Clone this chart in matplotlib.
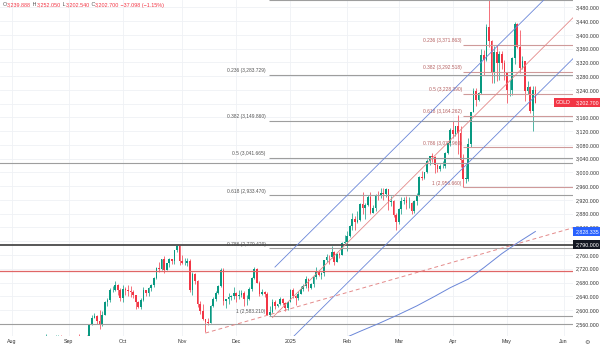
import matplotlib.pyplot as plt
import numpy as np
import pandas as pd

# daily XAUUSD bars, weekdays with the market holidays taken out
bar_dates = pd.bdate_range("2024-08-01", "2025-05-16")
bar_dates = bar_dates[~bar_dates.isin(pd.to_datetime(["2024-12-25", "2025-01-01", "2025-04-18"]))]

opens = [
    # Aug
    2448, 2446, 2442, 2409, 2390, 2382, 2427, 2431, 2472, 2465, 2447, 2456, 2507, 2503, 2514, 2512, 2484, 2512, 2518, 2524, 2504, 2521,
    # Sep
    2503, 2500, 2493, 2495, 2516, 2497, 2506, 2516, 2512, 2558, 2578, 2582, 2569, 2559, 2587, 2622, 2628, 2657, 2657, 2672, 2658,
    # Oct
    2634, 2662, 2659, 2656, 2653, 2643, 2622, 2608, 2630, 2657, 2649, 2663, 2674, 2692, 2721, 2720, 2748, 2716, 2736, 2747, 2743, 2774, 2787,
    # Nov
    2743, 2736, 2736, 2742, 2659, 2706, 2685, 2618, 2598, 2573, 2565, 2563, 2611, 2631, 2650, 2670, 2715, 2626, 2633, 2638, 2640,
    # Dec
    2650, 2640, 2643, 2650, 2632, 2633, 2660, 2694, 2718, 2680, 2648, 2652, 2646, 2587, 2594, 2622, 2612, 2617, 2633, 2621, 2606,
    # Jan
    2624, 2658, 2640, 2636, 2648, 2661, 2670, 2690, 2663, 2677, 2696, 2714, 2702, 2708, 2745, 2755, 2753, 2770, 2740, 2763, 2760, 2794,
    # Feb
    2798, 2815, 2843, 2866, 2856, 2861, 2908, 2898, 2904, 2928, 2883, 2898, 2935, 2933, 2939, 2936, 2951, 2915, 2916, 2875,
    # Mar
    2857, 2893, 2918, 2920, 2910, 2910, 2889, 2916, 2934, 2988, 2984, 3001, 3034, 3048, 3044, 3023, 3011, 3019, 3019, 3057, 3085,
    # Apr
    3124, 3113, 3134, 3114, 3037, 2982, 2982, 3083, 3176, 3237, 3211, 3230, 3343, 3327, 3424, 3381, 3288, 3349, 3319, 3344, 3317,
    # May
    3289, 3239, 3241, 3334, 3431, 3365, 3305, 3325, 3236, 3249, 3178, 3239.888,
]
highs = [
    2477, 2477, 2460, 2419, 2401, 2431, 2440, 2474, 2477, 2478, 2461, 2509, 2510, 2531, 2518, 2513, 2512, 2527, 2526, 2528, 2524, 2525,
    2504, 2503, 2500, 2524, 2529, 2509, 2518, 2528, 2560, 2586, 2590, 2585, 2600, 2596, 2626, 2635, 2664, 2671, 2685, 2675, 2665,
    2673, 2666, 2672, 2670, 2658, 2645, 2625, 2634, 2668, 2659, 2668, 2676, 2695, 2725, 2740, 2748, 2758, 2737, 2750, 2749, 2774, 2790, 2790,
    2761, 2750, 2750, 2749, 2710, 2709, 2686, 2627, 2618, 2575, 2578, 2615, 2639, 2656, 2674, 2721, 2721, 2633, 2649, 2645, 2666,
    2652, 2657, 2657, 2656, 2645, 2667, 2697, 2726, 2722, 2685, 2661, 2655, 2653, 2611, 2632, 2628, 2619, 2638, 2635, 2623, 2626,
    2662, 2665, 2643, 2654, 2670, 2676, 2698, 2693, 2680, 2698, 2724, 2716, 2710, 2746, 2763, 2759, 2786, 2772, 2765, 2770, 2799, 2817,
    2831, 2846, 2882, 2873, 2887, 2911, 2942, 2910, 2935, 2943, 2905, 2938, 2947, 2955, 2954, 2956, 2952, 2931, 2921, 2883,
    2896, 2928, 2930, 2931, 2930, 2915, 2921, 2940, 2990, 3005, 3001, 3038, 3049, 3057, 3047, 3025, 3024, 3032, 3060, 3087, 3128,
    3149, 3135, 3168, 3136, 3055, 3022, 3100, 3176, 3245, 3245, 3233, 3358, 3357, 3431, 3500.12, 3386, 3367, 3371, 3352, 3353, 3328,
    3290, 3269, 3337, 3437, 3435, 3415, 3340, 3325, 3265, 3252, 3252, 3252.05,
]
lows = [
    2436, 2410, 2364, 2385, 2375, 2380, 2415, 2424, 2455, 2440, 2431, 2454, 2488, 2500, 2495, 2470, 2477, 2506, 2507, 2502, 2500, 2491,
    2489, 2472, 2484, 2491, 2485, 2490, 2499, 2500, 2510, 2556, 2576, 2560, 2546, 2554, 2585, 2613, 2623, 2651, 2655, 2643, 2625,
    2624, 2643, 2642, 2638, 2636, 2603, 2605, 2603, 2626, 2640, 2641, 2654, 2668, 2690, 2710, 2717, 2708, 2715, 2724, 2733, 2735, 2768, 2730,
    2733, 2732, 2727, 2652, 2643, 2677, 2610, 2589, 2571, 2536, 2557, 2562, 2609, 2626, 2646, 2667, 2614, 2605, 2618, 2629, 2631,
    2622, 2633, 2639, 2613, 2614, 2629, 2656, 2691, 2678, 2642, 2644, 2638, 2585, 2583.21, 2591, 2603, 2610, 2614, 2616, 2597, 2600,
    2623, 2636, 2614, 2629, 2646, 2656, 2664, 2656, 2661, 2667, 2690, 2700, 2690, 2698, 2741, 2735, 2751, 2730, 2739, 2751, 2759, 2790,
    2772, 2812, 2834, 2834, 2853, 2859, 2880, 2864, 2903, 2880, 2882, 2888, 2920, 2925, 2921, 2930, 2890, 2903, 2870, 2832,
    2850, 2880, 2909, 2894, 2898, 2880, 2881, 2905, 2932, 2979, 2982, 2999, 3022, 3030, 2999, 3002, 3005, 3012, 3013, 3055, 3076,
    3101, 3105, 3054, 3015, 2956.66, 2970, 2975, 3073, 3175, 3193, 3209, 3229, 3283, 3325, 3366, 3260, 3260, 3266, 3268, 3300, 3268,
    3202, 3223, 3225, 3316, 3362, 3290, 3300, 3208, 3227, 3172, 3121, 3202.54,
]
closes = [
    2446, 2442, 2409, 2390, 2382, 2427, 2431, 2472, 2465, 2447, 2456, 2507, 2503, 2514, 2512, 2484, 2512, 2518, 2524, 2504, 2521, 2503,
    2500, 2493, 2495, 2516, 2497, 2506, 2516, 2512, 2558, 2578, 2582, 2569, 2559, 2587, 2622, 2628, 2657, 2657, 2672, 2658, 2634,
    2662, 2659, 2656, 2653, 2643, 2622, 2608, 2630, 2657, 2649, 2663, 2674, 2692, 2721, 2720, 2748, 2716, 2736, 2747, 2743, 2774, 2787, 2743,
    2736, 2736, 2742, 2659, 2706, 2685, 2618, 2598, 2573, 2565, 2563, 2611, 2631, 2650, 2670, 2715, 2626, 2633, 2638, 2640, 2650,
    2640, 2643, 2650, 2632, 2633, 2660, 2694, 2718, 2680, 2648, 2652, 2646, 2587, 2594, 2622, 2612, 2617, 2633, 2621, 2606, 2624,
    2658, 2640, 2636, 2648, 2661, 2670, 2690, 2663, 2677, 2696, 2714, 2702, 2708, 2745, 2755, 2753, 2770, 2740, 2763, 2760, 2794, 2798,
    2815, 2843, 2866, 2856, 2861, 2908, 2898, 2904, 2928, 2883, 2898, 2935, 2933, 2939, 2936, 2951, 2915, 2916, 2875, 2857,
    2893, 2918, 2920, 2910, 2910, 2889, 2916, 2934, 2988, 2984, 3001, 3034, 3048, 3044, 3023, 3011, 3019, 3019, 3057, 3085, 3124,
    3113, 3134, 3114, 3037, 2982, 2982, 3083, 3176, 3237, 3211, 3230, 3343, 3327, 3424, 3381, 3288, 3349, 3319, 3344, 3317, 3289,
    3239, 3241, 3334, 3431, 3365, 3305, 3325, 3236, 3249, 3178, 3239.798, 3202.70,
]

# fibonacci retracement, Apr low -> Apr high
small_fib_levels = ["0.236", "0.382", "0.5", "0.618", "0.786", "1"]
small_fib_prices = [3371.863, 3292.518, 3228.390, 3164.262, 3072.960, 2956.660]
small_fib_start = 175

# fibonacci retracement, Dec low -> Apr high
big_fib_levels = ["0.236", "0.382", "0.5", "0.618", "0.786", "1"]
big_fib_prices = [3283.729, 3149.860, 3041.665, 2933.470, 2779.429, 2583.210]
big_fib_start = 99.5
fib_top = 3500.12

# horizontal levels across the whole chart
level_black = 2790.0
level_red = 2713.0
levels_grey = [3027.0, 2560.0]

# trend channel (bar index, price)
upper_x, upper_y = [102, 218], [2725, 3589]
mid_x, mid_y = [101, 218], [2578, 3453]
lower_x, lower_y = [101, 218], [2462, 3334]
trend_x, trend_y = [75, 218], [2533, 2840]

# 200 day moving average
ma_x = [128, 135, 142, 150, 157, 164, 170, 177, 183, 190, 196, 203]
ma_y = [2515, 2538, 2560, 2587, 2612, 2640, 2665, 2690, 2723, 2764, 2795, 2828.335]

GREEN = "#089981"
RED = "#f23645"
FONT = "Liberation Sans"

opens = np.array(opens)
highs = np.array(highs)
lows = np.array(lows)
closes = np.array(closes)
idx = np.arange(len(closes))

fig = plt.figure(figsize=(6, 3.49), dpi=100)
ax = fig.add_axes([0, 13 / 349, 573 / 600, 336 / 349])
ax.set_xlim(-4.65, 217.6)
ax.set_ylim(2524.5, 3501.5)
for s in ax.spines.values():
    s.set_visible(False)

# month ticks, running on into June
future = pd.bdate_range("2025-05-19", "2025-06-30")
all_dates = bar_dates.append(future)
month_pos, month_lab = [], []
for i, d in enumerate(all_dates):
    if i == 0 or d.month != all_dates[i - 1].month:
        month_pos.append(i)
        month_lab.append("2025" if d.month == 1 else d.strftime("%b"))
ax.set_xticks(month_pos)
ax.set_xticklabels(month_lab)
yt = np.arange(2560, 3481, 40)
ax.set_yticks(yt)
# the 2,800 label sits under the 2,790 marker box
ax.set_yticklabels(["" if v == 2800 else f"{v:,.3f}" for v in yt])
ax.yaxis.tick_right()
ax.tick_params(axis="both", length=0, labelsize=3.8, labelcolor="#333333")
ax.tick_params(axis="y", pad=2.0)
ax.tick_params(axis="x", pad=2.5)
for lab in ax.get_xticklabels() + ax.get_yticklabels():
    lab.set_fontfamily(FONT)
ax.grid(color="#eff1f5", lw=0.6, zorder=0)
ax.set_axisbelow(True)

# candles
colors = np.where(closes >= opens, GREEN, RED)
ax.vlines(idx, lows, highs, colors=colors, lw=0.5, zorder=3)
body = np.maximum(np.abs(closes - opens), 1.0)
ax.bar(idx, body, bottom=np.minimum(opens, closes), width=0.66, color=colors, lw=0, zorder=3)

# full width levels
ax.axhline(level_black, color="#4a4a4a", lw=1.3, zorder=4)
ax.axhline(level_red, color="#e06666", lw=0.9, zorder=4)
for lv in levels_grey:
    ax.axhline(lv, color="#9e9e9e", lw=0.8, zorder=4)

# fib levels
txt = dict(fontsize=3.5, family=FONT, textcoords="offset points", ha="right", va="bottom")
ax.hlines(fib_top, big_fib_start, 218, color="#9e9e9e", lw=0.8, zorder=4)
for lvl, p in zip(big_fib_levels, big_fib_prices):
    ax.hlines(p, big_fib_start, 218, color="#9e9e9e", lw=0.8, zorder=4)
    ax.annotate(f"{lvl} ({p:,.3f})", (big_fib_start, p), xytext=(-2, 1.2), color="#555555", **txt)
for lvl, p in zip(small_fib_levels, small_fib_prices):
    ax.hlines(p, small_fib_start, 218, color="#cf9a9a", lw=0.8, zorder=4)
    ax.annotate(f"{lvl} ({p:,.3f})", (small_fib_start, p), xytext=(-1, 1.2), color="#b56060", **txt)

# channel, trend line, moving average
ax.plot(upper_x, upper_y, color="#6a86d8", lw=0.6, zorder=4)
ax.plot(lower_x, lower_y, color="#6a86d8", lw=0.6, zorder=4)
ax.plot(mid_x, mid_y, color="#e48a8a", lw=0.6, zorder=4)
ax.plot(trend_x, trend_y, color="#e48a8a", lw=0.7, ls=(0, (4, 3)), zorder=4)
ax.plot(ma_x, ma_y, color="#6a86d8", lw=0.7, zorder=4)

# price boxes on the scale
ytr = ax.get_yaxis_transform()
box = dict(fontsize=3.8, family=FONT, transform=ytr, va="center", clip_on=False, zorder=6)
ax.text(1.004, closes[-1], f"{closes[-1]:,.3f}", ha="left", color="white",
        bbox=dict(boxstyle="square,pad=0.35", fc=RED, ec="none"), **box)
ax.text(0.996, closes[-1], "GOLD", ha="right", color="white",
        bbox=dict(boxstyle="square,pad=0.35", fc=RED, ec="none"), **box)
ax.text(1.004, ma_y[-1], f"{ma_y[-1]:,.3f}", ha="left", color="white",
        bbox=dict(boxstyle="square,pad=0.35", fc="#2962ff", ec="none"), **box)
ax.text(1.004, level_black, f"{level_black:,.3f}", ha="left", color="white",
        bbox=dict(boxstyle="square,pad=0.35", fc="#131722", ec="none"), **box)

# OHLC header
change = closes[-1] - closes[-2]
pct = change / closes[-2] * 100
parts = [("O", "#555555"), (f"{opens[-1]:,.3f}", RED), (" H", "#555555"), (f"{highs[-1]:,.3f}", RED),
         (" L", "#555555"), (f"{lows[-1]:,.3f}", RED), (" C", "#555555"), (f"{closes[-1]:,.3f}", RED),
         (f" {change:,.3f} ({pct:.2f}%)".replace("-", "\u2212"), RED)]
prev = fig.text(3 / 600, 1 - 5 / 349, parts[0][0], color=parts[0][1], fontsize=3.9,
                family=FONT, va="center")
for s, c in parts[1:]:
    prev = ax.annotate(s, xy=(1, 0), xycoords=prev, va="bottom", ha="left", color=c,
                       fontsize=3.9, family=FONT, annotation_clip=False)

fig.text(587 / 600, 1 - 343 / 349, "\u2699", fontsize=4.5, color="#555555", ha="center", va="center")

fig.savefig("out.png", dpi=100, facecolor="white")
